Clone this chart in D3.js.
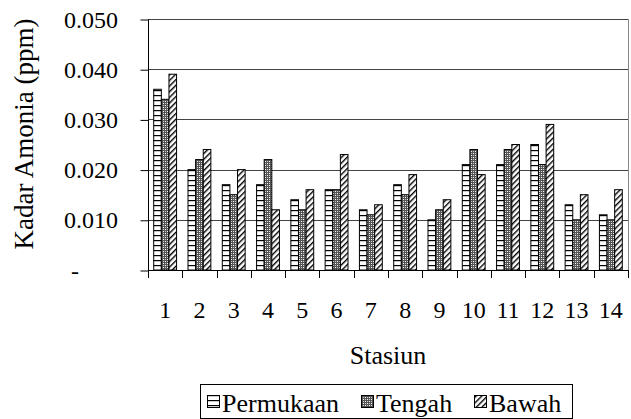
<!DOCTYPE html>
<html><head><meta charset="utf-8">
<script src="https://cdn.jsdelivr.net/npm/d3@7"></script>
<style>body{margin:0;background:#fff}svg{display:block}</style>
</head><body>
<script>
const stations = ["1","2","3","4","5","6","7","8","9","10","11","12","13","14"];
const seriesNames = ["Permukaan","Tengah","Bawah"];
const permukaan = [0.036,0.020,0.017,0.017,0.014,0.016,0.012,0.017,0.010,0.021,0.021,0.025,0.013,0.011];
const tengah    = [0.034,0.022,0.015,0.022,0.012,0.016,0.011,0.015,0.012,0.024,0.024,0.021,0.010,0.010];
const bawah     = [0.039,0.024,0.020,0.012,0.016,0.023,0.013,0.019,0.014,0.019,0.025,0.029,0.015,0.016];
const yTicks = [0,0.010,0.020,0.030,0.040,0.050];
const yTickLabels = ["-","0.010","0.020","0.030","0.040","0.050"];
const xTitle = "Stasiun";
const yTitle = "Kadar Amonia (ppm)";

const FONT="Liberation Serif";
const W=631,H=419;
const m={left:148,right:628,top:19,bottom:270};
const svg=d3.select("body").append("svg").attr("width",W).attr("height",H);
const defs=svg.append("defs");
const p1=defs.append("pattern").attr("id","pat0").attr("patternUnits","userSpaceOnUse").attr("width",6).attr("height",5);
p1.append("rect").attr("width",6).attr("height",5).attr("fill","#fff");
p1.append("rect").attr("y",0).attr("width",6).attr("height",1.2).attr("fill","#000");
const p2=defs.append("pattern").attr("id","pat1").attr("patternUnits","userSpaceOnUse").attr("width",4).attr("height",4);
p2.append("rect").attr("width",4).attr("height",4).attr("fill","#555");
p2.append("rect").attr("x",1).attr("y",1).attr("width",1).attr("height",1).attr("fill","#fff");
p2.append("rect").attr("x",3).attr("y",3).attr("width",1).attr("height",1).attr("fill","#fff");
p2.append("rect").attr("x",3).attr("y",1).attr("width",1).attr("height",1).attr("fill","#ccc");
p2.append("rect").attr("x",1).attr("y",3).attr("width",1).attr("height",1).attr("fill","#ccc");
const p3=defs.append("pattern").attr("id","pat2").attr("patternUnits","userSpaceOnUse").attr("width",4).attr("height",4).attr("patternTransform","rotate(45)");
p3.append("rect").attr("width",4).attr("height",4).attr("fill","#fff");
p3.append("rect").attr("x",0).attr("width",1.4).attr("height",4).attr("fill","#000");

const x=d3.scaleBand().domain(stations).range([m.left,m.right]).paddingInner(0.3333).paddingOuter(0.1667);
const xs=d3.scaleBand().domain(seriesNames).range([0,x.bandwidth()]);
const y=d3.scaleLinear().domain([0,0.05]).range([m.bottom,m.top]);

svg.append("g").selectAll("line").data(yTicks.filter(d=>d>0)).join("line")
 .attr("x1",m.left).attr("x2",m.right).attr("y1",d=>Math.round(y(d))+0.5).attr("y2",d=>Math.round(y(d))+0.5)
 .attr("stroke","#444").attr("stroke-width",1);
svg.append("line").attr("x1",m.right+0.5).attr("x2",m.right+0.5).attr("y1",m.top).attr("y2",m.bottom).attr("stroke","#888");

const data=[permukaan,tengah,bawah];
const g=svg.append("g");
stations.forEach((s,i)=>{
  seriesNames.forEach((n,j)=>{
    g.append("rect").attr("x",x(s)+xs(n)).attr("y",y(data[j][i])).attr("width",xs.bandwidth()).attr("height",y(0)-y(data[j][i]))
     .attr("fill",`url(#pat${j})`).attr("stroke","#000").attr("stroke-width",1);
  });
});

const ya=d3.axisLeft(y).tickValues(yTicks).tickSize(8).tickFormat("");
const yg=svg.append("g").attr("transform",`translate(${m.left+0.5},0.5)`).call(ya);
yg.select(".domain").attr("stroke","#000").attr("d",`M0,${m.top}V${m.bottom}`);
yg.selectAll(".tick line").attr("stroke","#000");
svg.append("g").selectAll("text").data(yTicks).join("text")
 .style("font-family",FONT)
 .attr("x",(d,i)=>i===0?75:118).attr("y",d=>y(d)+8.5)
 .attr("text-anchor",(d,i)=>i===0?"middle":"end").style("font-size","24px")
 .text((d,i)=>yTickLabels[i]);

const xTickPos=stations.map(s=>x(s)-x.step()*x.paddingInner()/2).concat([m.right]);
svg.append("line").attr("x1",m.left).attr("x2",m.right).attr("y1",m.bottom+0.5).attr("y2",m.bottom+0.5).attr("stroke","#000");
svg.append("g").selectAll("line").data(xTickPos).join("line")
 .attr("x1",d=>Math.round(d)+0.5).attr("x2",d=>Math.round(d)+0.5).attr("y1",m.bottom).attr("y2",m.bottom+8).attr("stroke","#000");
svg.append("g").selectAll("text").data(stations).join("text")
 .style("font-family",FONT)
 .attr("x",d=>x(d)+x.bandwidth()/2).attr("y",318).attr("text-anchor","middle").style("font-size","24px").text(d=>d);

svg.append("text").style("font-family",FONT).attr("x",(m.left+m.right)/2).attr("y",364).attr("text-anchor","middle").style("font-size","26px").text(xTitle);
svg.append("text").style("font-family",FONT).attr("transform","translate(33,134) rotate(-90)").attr("text-anchor","middle").style("font-size","27px").text(yTitle);

svg.append("rect").attr("x",200.5).attr("y",384.5).attr("width",372).attr("height",34).attr("fill","#fff").attr("stroke","#000");
const lx=[207,361,474];
seriesNames.forEach((n,j)=>{
  svg.append("rect").attr("x",lx[j]+0.5).attr("y",395.5).attr("width",12).attr("height",12).attr("fill",`url(#pat${j})`).attr("stroke","#000");
  svg.append("text").style("font-family",FONT).attr("x",lx[j]+15).attr("y",412).style("font-size","26px").text(n);
});
</script>
</body></html>
